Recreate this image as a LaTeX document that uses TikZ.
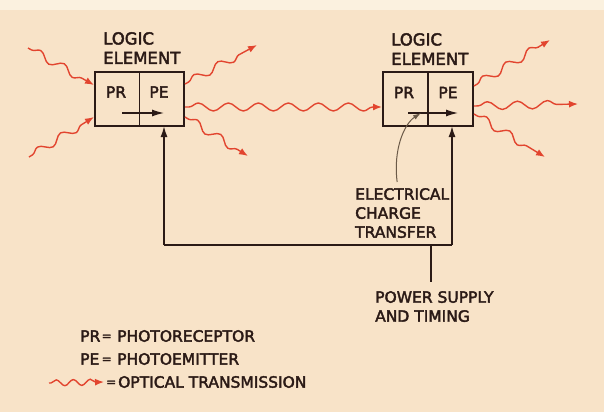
\documentclass[tikz,border=0pt]{standalone}
\usepackage{fontspec}
\setmainfont{DejaVu Sans}[FakeBold=2.5]
\usetikzlibrary{arrows.meta,calc,decorations.pathmorphing}
\definecolor{paper}{HTML}{F8E3C8}
\definecolor{paperlight}{HTML}{FBF1DF}
\definecolor{ink}{HTML}{2B1A16}
\definecolor{optred}{HTML}{E2452F}
\definecolor{pencil}{HTML}{6B5A48}
\tikzset{
  cell/.style={draw=ink, line width=1.8pt, minimum width=44.5pt, minimum height=54pt, inner sep=0pt, outer sep=0pt},
  lbl/.style={text=ink, font=\fontsize{15.5}{19}\selectfont, inner sep=0pt, align=left},
  optic/.style={optred, line width=1.4pt, decorate,
    decoration={snake, amplitude=4pt, segment length=27pt, pre length=4pt, post length=9pt},
    -{Latex[length=9pt,width=7pt]}},
  feed/.style={ink, line width=1.6pt, -{Latex[length=11pt,width=7pt]}},
  wire/.style={ink, line width=1.6pt},
  transfer/.style={ink, line width=1.2pt, -{Latex[length=12pt,width=7pt]}},
}
\newcommand{\eqmark}{\raisebox{1.5pt}{\fontsize{12}{12}\selectfont =}}
\begin{document}
\begin{tikzpicture}[x=1pt,y=-1pt]
    % Paper
    \useasboundingbox (0,0) rectangle (604,412);
    \fill[paper] (0,0) rectangle (604,412);
    \fill[paperlight] (0,0) rectangle (604,10);
    % Logic elements
    \node[cell] (pr1) at (117.25,99) {};
    \node[cell, anchor=west] (pe1) at (pr1.east) {};
    \node[cell, minimum width=45pt] (pr2) at (405.5,99) {};
    \node[cell, minimum width=45pt, anchor=west] (pe2) at (pr2.east) {};
    \node[lbl] (prtxt1) at (116,92) {PR};
    \node[lbl] (petxt1) at (159,92) {PE};
    \node[lbl] (prtxt2) at (404,92.5) {PR};
    \node[lbl] (petxt2) at (448,92.5) {PE};
    \node[lbl, font=\fontsize{16.5}{19.5}\selectfont, anchor=north west] (logic1) at (103,32) {LOGIC\\ELEMENT};
    \node[lbl, font=\fontsize{16.5}{19.5}\selectfont, anchor=north west] (logic2) at (391,33) {LOGIC\\ELEMENT};
    % Charge transfer inside the elements
    \coordinate (ct1a) at (122,113);
    \coordinate (ct1b) at (164,113);
    \coordinate (ct2a) at (408,113);
    \coordinate (ct2b) at (458,113);
    \draw[transfer] (ct1a) -- (ct1b);
    \draw[transfer] (ct2a) -- (ct2b);
    % Power supply and timing
    \coordinate (jl) at (164,245);
    \coordinate (jr) at (452,245);
    \coordinate (jp) at (431,245);
    \coordinate (pend) at (431,282);
    \draw[wire] (jl) -- (jr);
    \draw[wire] (jp) -- (pend);
    \draw[feed] (jl) -- (jl |- pe1.south);
    \draw[feed] (jr) -- (jr |- pe2.south);
    \node[lbl, anchor=north west] (power) at (375,291) {POWER SUPPLY\\AND TIMING};
    \node[lbl, anchor=north west] (etext) at (355,188) {ELECTRICAL\\CHARGE\\TRANSFER};
    \draw[pencil, line width=1pt, -{Latex[length=8pt,width=5pt]}]
        ([shift={(-5,-6)}]etext.north) .. controls (393,150) and (404,124) .. (421,113);
    % Optical transmission
    \coordinate (in1) at (28,48);
    \coordinate (in2) at (29,157);
    \coordinate (out1) at (257,45);
    \coordinate (out2) at (248,156);
    \coordinate (out3) at (550,40);
    \coordinate (out4) at (578,104);
    \coordinate (out5) at (545,157);
    \draw[optic] (in1) -- ($(pr1.west)+(-1,-14)$);
    \draw[optic] (in2) -- ($(pr1.west)+(-1,18)$);
    \draw[optic] ($(pe1.east)+(1,-15)$) -- (out1);
    \draw[optic] ($(pe1.east)+(1,18)$) -- (out2);
    \draw[optic, decoration={segment length=30pt}] ($(pe1.east)+(1,8)$) -- ($(pr2.west)+(-1,8)$);
    \draw[optic] ($(pe2.east)+(1,-13)$) -- (out3);
    \draw[optic, decoration={segment length=30pt}] ($(pe2.east)+(1,7)$) -- (out4);
    \draw[optic] ($(pe2.east)+(1,15)$) -- (out5);
    % Legend
    \node[lbl, anchor=west] (legpr) at (80,336) {\makebox[16pt][l]{PR}\makebox[21pt]{\eqmark}PHOTORECEPTOR};
    \node[lbl, anchor=west] (legpe) at (80,359) {\makebox[16pt][l]{PE}\makebox[21pt]{\eqmark}PHOTOEMITTER};
    \coordinate (legw) at (49,383);
    \node[lbl, anchor=west] (legopt) at (104,382) {\makebox[14pt]{\eqmark}OPTICAL TRANSMISSION};
    \draw[optic, decoration={amplitude=3pt, segment length=17pt, pre length=2pt, post length=7pt}] (legw) -- (legopt.west);
\end{tikzpicture}
\end{document}
